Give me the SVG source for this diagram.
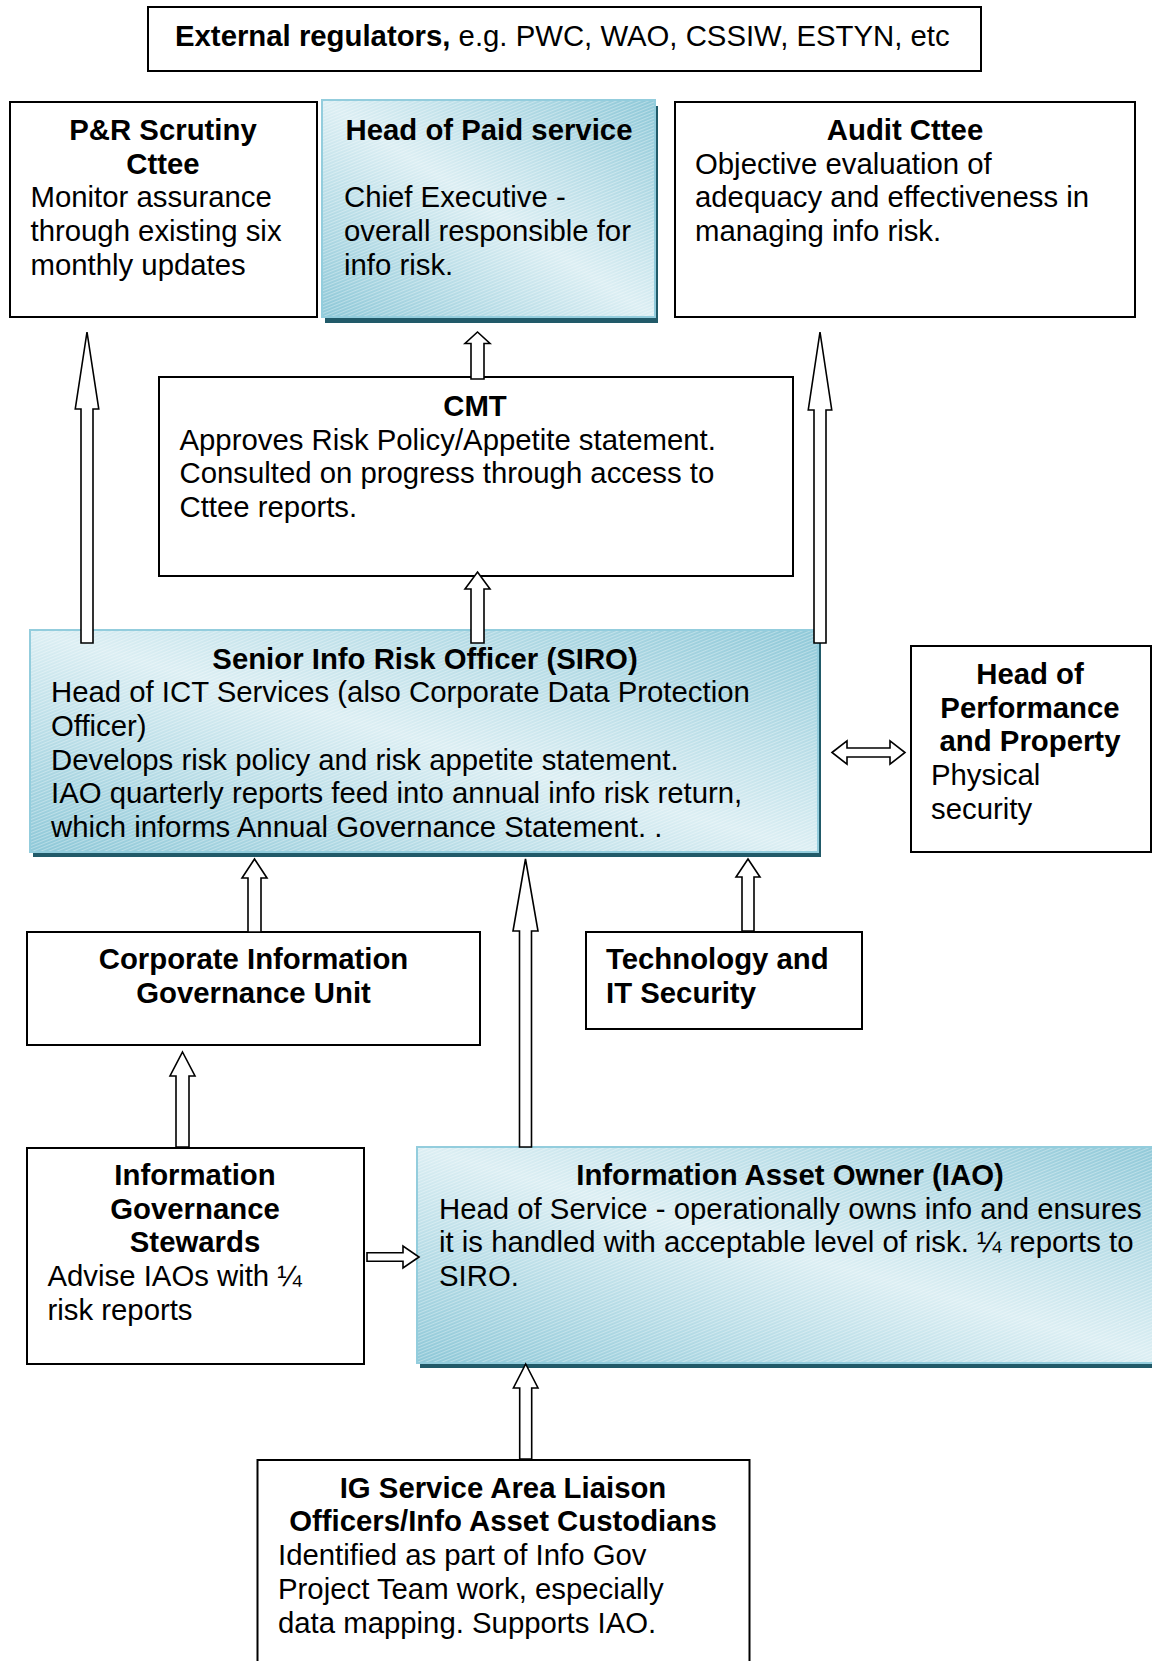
<svg xmlns="http://www.w3.org/2000/svg" width="1152" height="1661" viewBox="0 0 1152 1661">
<defs>
<linearGradient id="shade" x1="1" y1="0" x2="0" y2="1">
<stop offset="0" stop-color="#8cc7d7"/>
<stop offset="0.5" stop-color="#dbeef3"/>
<stop offset="1" stop-color="#8cc7d7"/>
</linearGradient>
<pattern id="hatch" width="3" height="3" patternUnits="userSpaceOnUse" patternTransform="rotate(-22)">
<rect x="0" y="0" width="3" height="1.1" fill="#ffffff" opacity="0.35"/>
</pattern>
<style>
.box{fill:#fff;stroke:#000;stroke-width:2}
.sh{fill:#215a69}
.sb{fill:url(#shade)}
.sp{fill:url(#hatch);stroke:#93cddd;stroke-width:2}
.t{font-family:"Liberation Sans",Arial,Helvetica,sans-serif;font-size:29.33px;fill:#000}
.b{font-weight:bold}
.c{text-anchor:middle}
.arr{fill:#fff;stroke:#000;stroke-width:1.6;stroke-linejoin:miter}
</style>
</defs>
<rect width="1152" height="1661" fill="#fff"/>

<g id="external">
<rect class="box" x="148" y="7" width="833" height="64"/>
<text class="t" x="175" y="46"><tspan class="b">External regulators,</tspan> e.g. PWC, WAO, CSSIW, ESTYN, etc</text>
</g>

<g id="pr-scrutiny">
<rect class="box" x="10" y="102" width="307" height="215"/>
<text class="t b c" x="163" y="140">P&amp;R Scrutiny</text>
<text class="t b c" x="163" y="173.7">Cttee</text>
<text class="t" x="30.5" y="207.4">Monitor assurance</text>
<text class="t" x="30.5" y="241.1">through existing six</text>
<text class="t" x="30.5" y="274.8">monthly updates</text>
</g>

<g id="head-paid-service">
<rect class="sh" x="325" y="106" width="333" height="217"/>
<rect class="sb" x="322" y="100" width="333" height="217"/>
<rect class="sp" x="322" y="100" width="333" height="217"/>
<text class="t b c" x="489" y="140">Head of Paid service</text>
<text class="t" x="344" y="207.4">Chief Executive -</text>
<text class="t" x="344" y="241.1">overall responsible for</text>
<text class="t" x="344" y="274.8">info risk.</text>
</g>

<g id="audit-cttee">
<rect class="box" x="675" y="102" width="460" height="215"/>
<text class="t b c" x="905" y="140">Audit Cttee</text>
<text class="t" x="695" y="173.7">Objective evaluation of</text>
<text class="t" x="695" y="207.4">adequacy and effectiveness in</text>
<text class="t" x="695" y="241.1">managing info risk.</text>
</g>

<g id="cmt">
<rect class="box" x="159" y="377" width="634" height="199"/>
<text class="t b c" x="475" y="416">CMT</text>
<text class="t" x="179.5" y="449.7">Approves Risk Policy/Appetite statement.</text>
<text class="t" x="179.5" y="483.4">Consulted on progress through access to</text>
<text class="t" x="179.5" y="517.1">Cttee reports.</text>
</g>

<g id="siro">
<rect class="sh" x="33" y="635" width="788" height="222"/>
<rect class="sb" x="30" y="630" width="788" height="222"/>
<rect class="sp" x="30" y="630" width="788" height="222"/>
<text class="t b c" x="425" y="668.5">Senior Info Risk Officer (SIRO)</text>
<text class="t" x="51" y="702.2">Head of ICT Services (also Corporate Data Protection</text>
<text class="t" x="51" y="735.9">Officer)</text>
<text class="t" x="51" y="769.6">Develops risk policy and risk appetite statement.</text>
<text class="t" x="51" y="803.3">IAO quarterly reports feed into annual info risk return,</text>
<text class="t" x="51" y="837">which informs Annual Governance Statement. .</text>
</g>

<g id="head-performance-property">
<rect class="box" x="911" y="646" width="240" height="206"/>
<text class="t b c" x="1030" y="684">Head of</text>
<text class="t b c" x="1030" y="717.7">Performance</text>
<text class="t b c" x="1030" y="751.4">and Property</text>
<text class="t" x="931" y="785.1">Physical</text>
<text class="t" x="931" y="818.8">security</text>
</g>

<g id="corporate-ig-unit">
<rect class="box" x="27" y="932" width="453" height="113"/>
<text class="t b c" x="253.5" y="969">Corporate Information</text>
<text class="t b c" x="253.5" y="1002.7">Governance Unit</text>
</g>

<g id="tech-it-security">
<rect class="box" x="586" y="932" width="276" height="97"/>
<text class="t b" x="606" y="969">Technology and</text>
<text class="t b" x="606" y="1002.7">IT Security</text>
</g>

<g id="ig-stewards">
<rect class="box" x="27" y="1148" width="337" height="216"/>
<text class="t b c" x="195" y="1185">Information</text>
<text class="t b c" x="195" y="1218.7">Governance</text>
<text class="t b c" x="195" y="1252.4">Stewards</text>
<text class="t" x="47.5" y="1286.1">Advise IAOs with ¼</text>
<text class="t" x="47.5" y="1319.8">risk reports</text>
</g>

<g id="iao">
<rect class="sh" x="420" y="1152" width="760" height="216"/>
<rect class="sb" x="417" y="1147" width="760" height="216"/>
<rect class="sp" x="417" y="1147" width="760" height="216"/>
<text class="t b c" x="790" y="1185">Information Asset Owner (IAO)</text>
<text class="t" x="439" y="1218.7">Head of Service - operationally owns info and ensures</text>
<text class="t" x="439" y="1252.4">it is handled with acceptable level of risk. ¼ reports to</text>
<text class="t" x="439" y="1286.1">SIRO.</text>
</g>

<g id="ig-liaison">
<rect class="box" x="257.5" y="1460" width="492" height="230"/>
<text class="t b c" x="503" y="1497.7">IG Service Area Liaison</text>
<text class="t b c" x="503" y="1531.4">Officers/Info Asset Custodians</text>
<text class="t" x="278" y="1565.1">Identified as part of Info Gov</text>
<text class="t" x="278" y="1598.8">Project Team work, especially</text>
<text class="t" x="278" y="1632.5">data mapping. Supports IAO.</text>
</g>

<g id="connectors">
<polygon class="arr" points="87,332 98.75,409 93,409 93,643 81,643 81,409 75.25,409"/>
<polygon class="arr" points="477.5,572 490,589 484,589 484,643 471,643 471,589 465,589"/>
<polygon class="arr" points="477.5,332 490,343.5 484,343.5 484,379 471,379 471,343.5 465,343.5"/>
<polygon class="arr" points="820,332 831.75,410 826,410 826,643 814,643 814,410 808.25,410"/>
<polygon class="arr" points="254.5,859 267,878 261,878 261,932 248,932 248,878 242,878"/>
<polygon class="arr" points="525.5,859 538,931 531.5,931 531.5,1147 519.5,1147 519.5,931 513,931"/>
<polygon class="arr" points="748,859 760,877 754,877 754,931 742,931 742,877 736,877"/>
<polygon class="arr" points="182.5,1052 195,1076 189,1076 189,1147 176,1147 176,1076 170,1076"/>
<polygon class="arr" points="525.7,1364 538,1388 531.7,1388 531.7,1459 519.7,1459 519.7,1388 513.4,1388"/>
<polygon class="arr" points="419,1257 403,1268 403,1261.3 367,1261.3 367,1252.7 403,1252.7 403,1246"/>
<polygon class="arr" points="832,752.5 847,740.8 847,748 890,748 890,740.8 905,752.5 890,764.2 890,757 847,757 847,764.2"/>
</g>
</svg>
